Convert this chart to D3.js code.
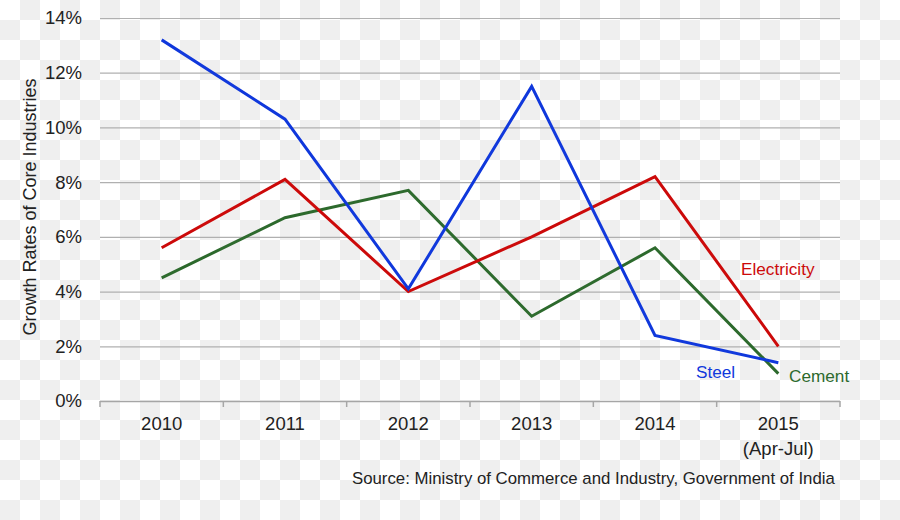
<!DOCTYPE html>
<html><head><meta charset="utf-8">
<script src="https://cdn.jsdelivr.net/npm/d3@7/dist/d3.min.js"></script>
<style>html,body{margin:0;padding:0;background:#fff;}svg{display:block;}</style>
</head><body>
<svg id="chart" width="900" height="520"></svg>
<script>
const categories = ["2010","2011","2012","2013","2014","2015"];
const categorySub = ["","","","","","(Apr-Jul)"];
const steel = [13.2, 10.3, 4.1, 11.5, 2.4, 1.4];
const electricity = [5.6, 8.1, 4.0, 6.0, 8.2, 2.0];
const cement = [4.5, 6.7, 7.7, 3.1, 5.6, 1.0];
const yTicks = [0, 2, 4, 6, 8, 10, 12, 14];
const seriesNames = ["Steel", "Electricity", "Cement"];

(function(){
const svg = d3.select("#chart");
const font = "'Liberation Sans', Arial, sans-serif";

// checkerboard background
const defs = svg.append("defs");
const pat = defs.append("pattern").attr("id","chk").attr("width",40).attr("height",40).attr("patternUnits","userSpaceOnUse");
pat.append("rect").attr("width",40).attr("height",40).attr("fill","#ffffff");
pat.append("rect").attr("x",20).attr("y",0).attr("width",20).attr("height",20).attr("fill","#efefef");
pat.append("rect").attr("x",0).attr("y",20).attr("width",20).attr("height",20).attr("fill","#efefef");
svg.append("rect").attr("width",900).attr("height",520).attr("fill","url(#chk)");

const mLeft = 100, mRight = 840, mTop = 18, mBottom = 401;
const x = d3.scaleBand().domain(categories).range([mLeft, mRight]);
const y = d3.scaleLinear().domain([0, 14]).range([mBottom, mTop]);

// gridlines
svg.append("g").selectAll("line").data(yTicks.filter(d=>d>0)).join("line")
  .attr("x1", mLeft).attr("x2", mRight)
  .attr("y1", d=>y(d)+0.5).attr("y2", d=>y(d)+0.5)
  .attr("stroke", "#b0b0b0").attr("stroke-width", 1.2);

// y axis labels
const yAxis = d3.axisLeft(y).tickValues(yTicks).tickFormat(d=>d+"%").tickSize(0).tickPadding(18);
const ya = svg.append("g").attr("transform", `translate(${mLeft},0)`).call(yAxis);
ya.select(".domain").remove();
ya.selectAll("text").attr("font-family", font).attr("font-size", 18.5).attr("fill", "#222");

// x axis
const xAxis = d3.axisBottom(x).tickSize(0).tickPadding(16);
const xa = svg.append("g").attr("transform", `translate(0,${mBottom})`).call(xAxis);
xa.select(".domain").attr("stroke", "#a6a6a6").attr("stroke-width", 1.5).attr("d", `M${mLeft},0.5H${mRight}`);
xa.selectAll("text").attr("font-family", font).attr("font-size", 18.5).attr("fill", "#222");
// boundary ticks
const bounds = categories.map(c=>x(c)).concat([mRight]);
xa.selectAll("line.bt").data(bounds).join("line").attr("class","bt")
  .attr("x1", d=>d).attr("x2", d=>d).attr("y1", 0).attr("y2", 6)
  .attr("stroke", "#a6a6a6").attr("stroke-width", 1.5);
// sub labels
svg.append("g").selectAll("text").data(categories).join("text")
  .attr("x", d=>x(d)+x.bandwidth()/2).attr("y", 455)
  .attr("text-anchor","middle").attr("font-family", font).attr("font-size", 18.5).attr("fill","#222")
  .text((d,i)=>categorySub[i]);

// y axis title
svg.append("text").attr("transform", "translate(36,207) rotate(-90)")
  .attr("text-anchor","middle").attr("font-family", font).attr("font-size", 18).attr("fill","#222")
  .text("Growth Rates of Core Industries");

// lines
const line = d3.line().x((d,i)=>x(categories[i])+x.bandwidth()/2).y(d=>y(d));
const series = [
  {name: seriesNames[0], values: steel, color: "#1038dc"},
  {name: seriesNames[1], values: electricity, color: "#cc0a0a"},
  {name: seriesNames[2], values: cement, color: "#2d6a2d"}
];
svg.append("g").selectAll("path").data([series[2], series[1], series[0]]).join("path")
  .attr("d", d=>line(d.values)).attr("fill","none").attr("stroke", d=>d.color)
  .attr("stroke-width", 3).attr("stroke-linejoin","miter");

// series labels
svg.append("text").attr("x", 741).attr("y", 275).attr("font-family", font).attr("font-size", 17.2)
  .attr("fill", series[1].color).text(series[1].name);
svg.append("text").attr("x", 696).attr("y", 378).attr("font-family", font).attr("font-size", 17.2)
  .attr("fill", series[0].color).text(series[0].name);
svg.append("text").attr("x", 789).attr("y", 382).attr("font-family", font).attr("font-size", 17.2)
  .attr("fill", series[2].color).text(series[2].name);

// source
svg.append("text").attr("x", 352).attr("y", 484).attr("font-family", font).attr("font-size", 16.8)
  .attr("fill", "#222").text("Source: Ministry of Commerce and Industry, Government of India");
})();
</script>
</body></html>
